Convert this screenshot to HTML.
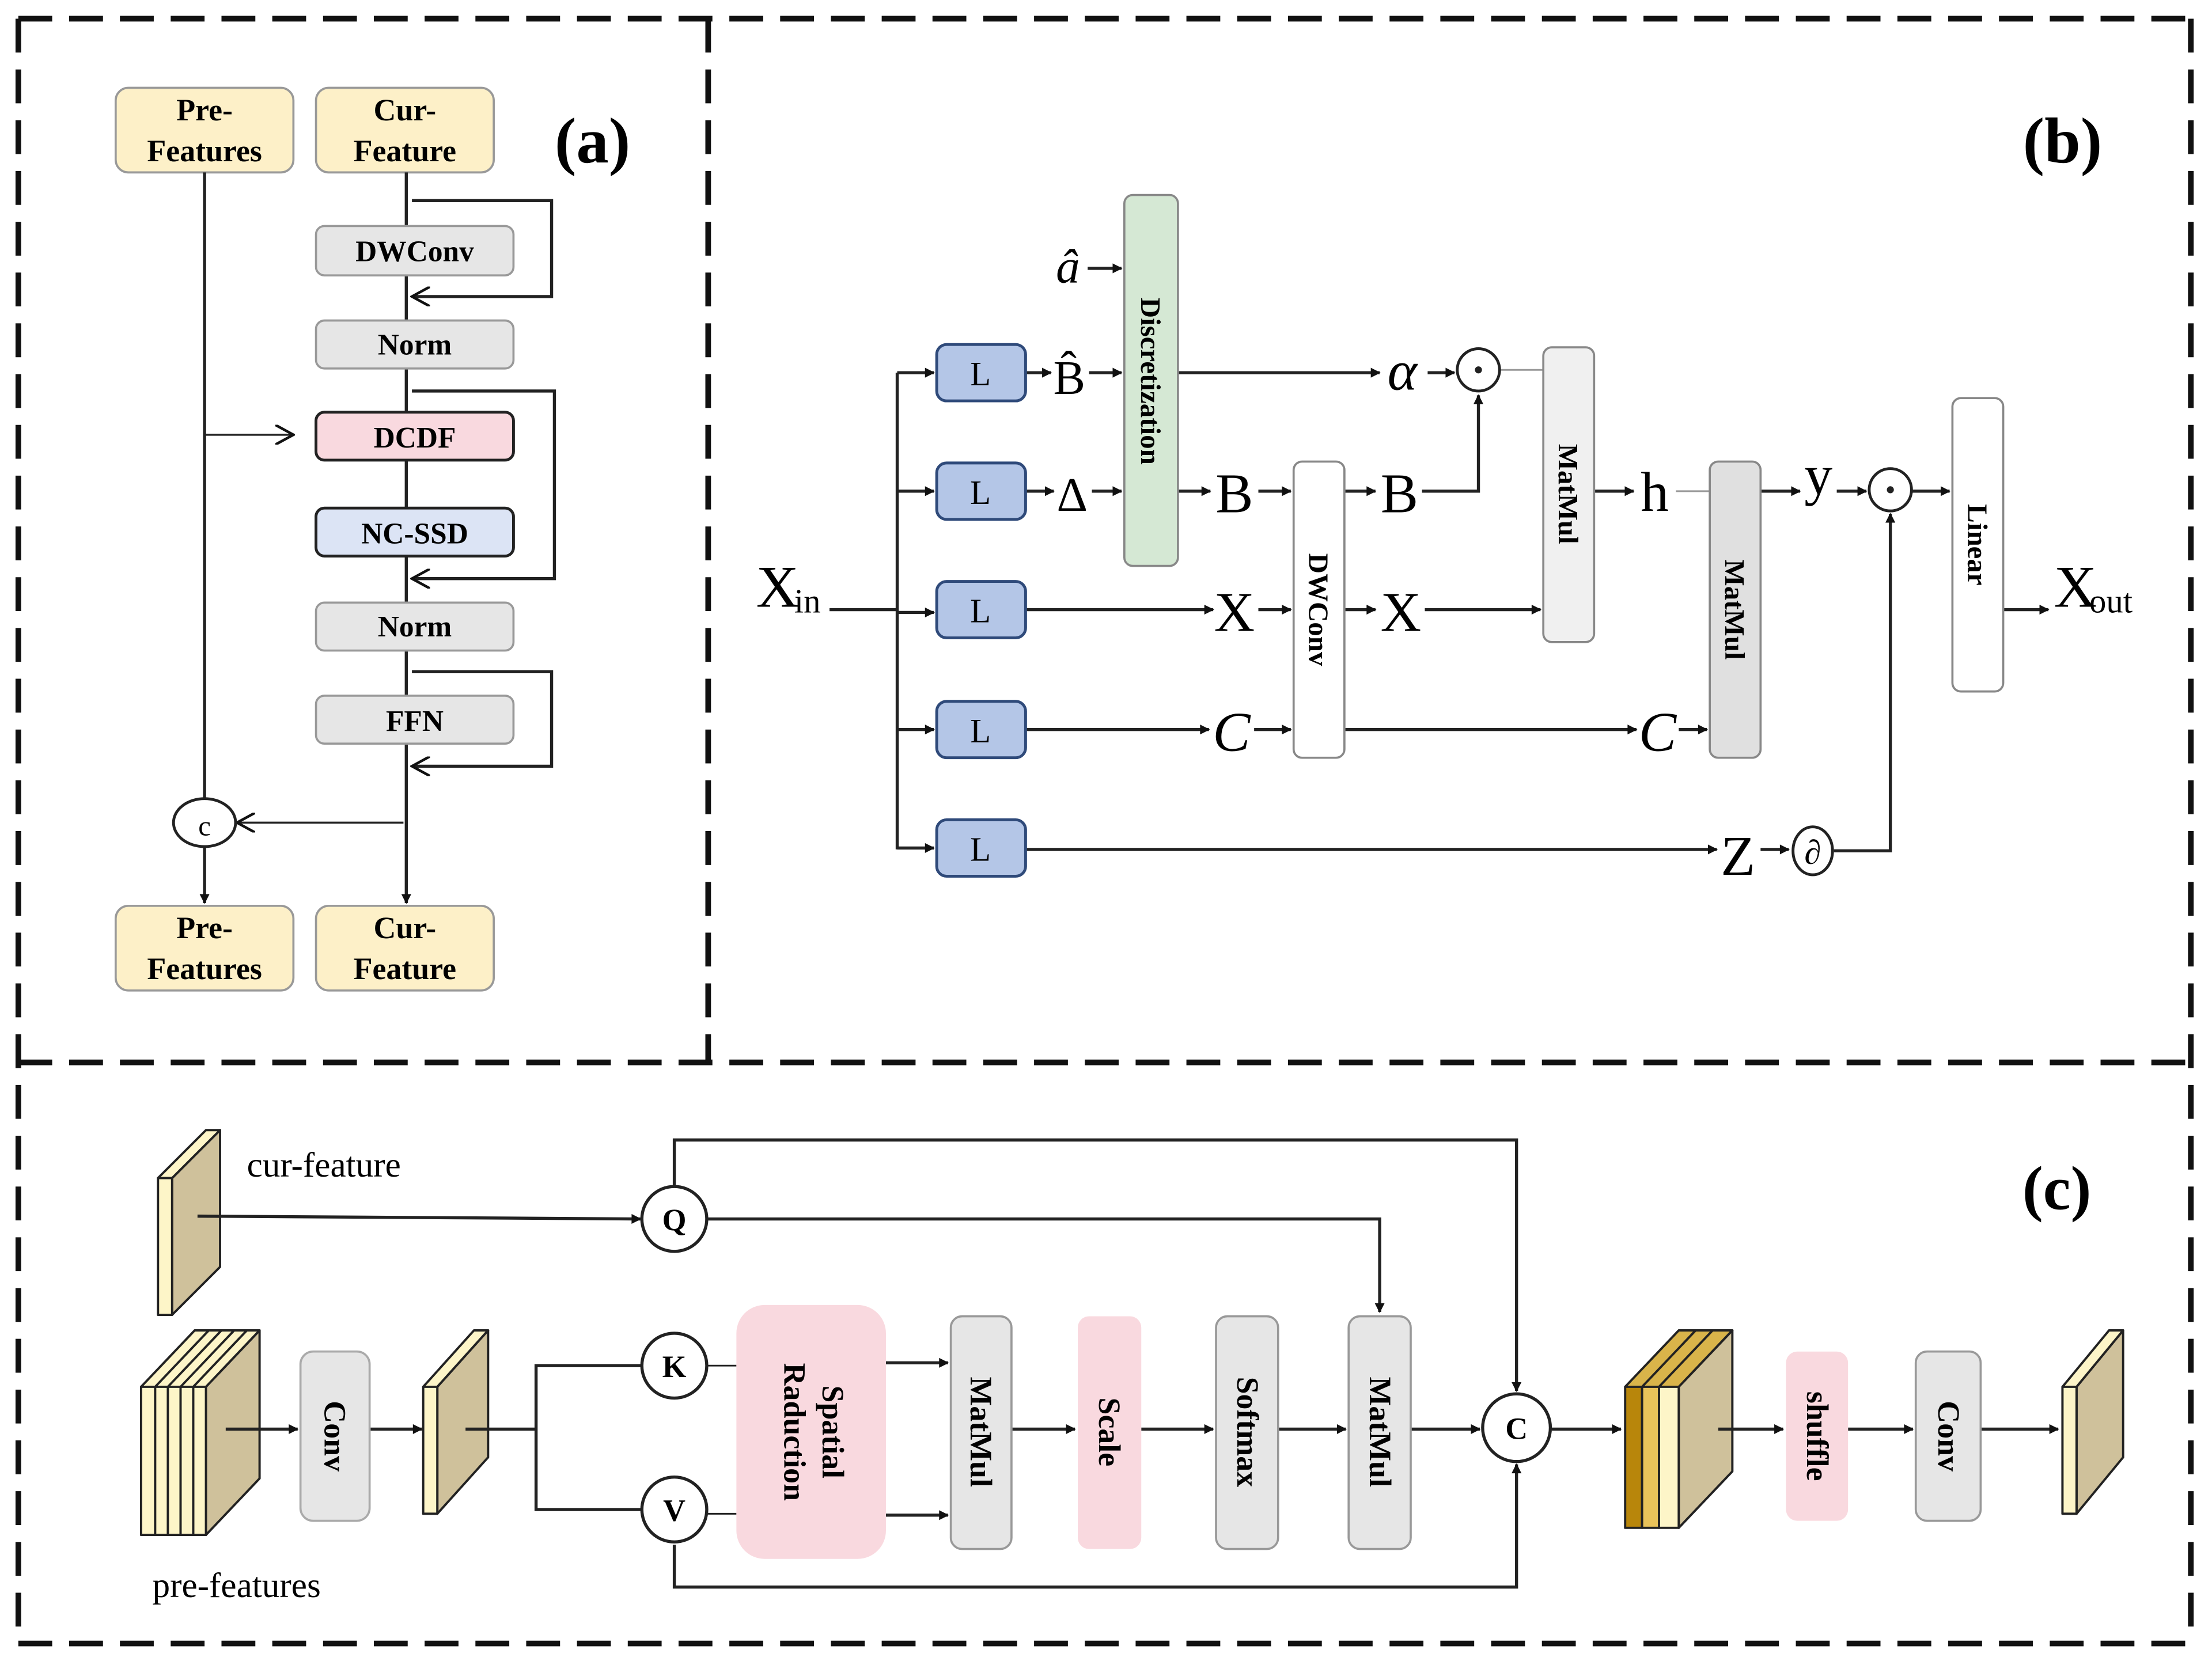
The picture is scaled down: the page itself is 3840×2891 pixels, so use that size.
<!DOCTYPE html>
<html><head><meta charset="utf-8"><style>
html,body{margin:0;padding:0;background:#fff;}
svg{display:block;}
text{font-family:"Liberation Serif",serif;}
</style></head><body>
<svg width="3840" height="2891" viewBox="0 0 1568 1180" xmlns="http://www.w3.org/2000/svg">
<defs>
<marker id="ar" viewBox="0 0 10 10" refX="9" refY="5" markerWidth="7" markerHeight="7" orient="auto-start-reverse" markerUnits="userSpaceOnUse" style="overflow:visible"><path d="M0,0 L10,5 L0,10 z" fill="#111"/></marker>
<marker id="ao" viewBox="0 0 12 12" refX="11" refY="6" markerWidth="14" markerHeight="14" orient="auto" markerUnits="userSpaceOnUse"><path d="M0,0 L11,6 L0,12" fill="none" stroke="#111" stroke-width="1.6"/></marker>
</defs>
<rect width="1568" height="1180" fill="#fff"/>
<!-- dashed panels -->
<g fill="none" stroke="#111" stroke-width="4" stroke-dasharray="24,12">
<line x1="13" y1="13" x2="1553" y2="13"/>
<line x1="13" y1="1165" x2="1553" y2="1165"/>
<line x1="13" y1="753" x2="1553" y2="753"/>
<line x1="13" y1="13" x2="13" y2="1165"/>
<line x1="1553" y1="13" x2="1553" y2="1165"/>
<line x1="502" y1="13" x2="502" y2="753"/>
</g>

<!-- PANEL A -->
<g font-weight="bold" font-size="22" text-anchor="middle">
<rect x="82" y="62" width="126" height="60" rx="9" fill="#fdf0c8" stroke="#999" stroke-width="1.5"/>
<text x="145" y="85">Pre-</text><text x="145" y="114">Features</text>
<rect x="224" y="62" width="126" height="60" rx="9" fill="#fdf0c8" stroke="#999" stroke-width="1.5"/>
<text x="287" y="85">Cur-</text><text x="287" y="114">Feature</text>
<rect x="82" y="642" width="126" height="60" rx="9" fill="#fdf0c8" stroke="#999" stroke-width="1.5"/>
<text x="145" y="665">Pre-</text><text x="145" y="694">Features</text>
<rect x="224" y="642" width="126" height="60" rx="9" fill="#fdf0c8" stroke="#999" stroke-width="1.5"/>
<text x="287" y="665">Cur-</text><text x="287" y="694">Feature</text>
</g>
<g stroke="#222" stroke-width="2.2" fill="none">
<line x1="288" y1="122" x2="288" y2="640" marker-end="url(#ar)"/>
<polyline points="292,142 391,142 391,210 292,210" marker-end="url(#ao)"/>
<polyline points="292,277 393,277 393,410 292,410" marker-end="url(#ao)"/>
<polyline points="292,476 391,476 391,543 292,543" marker-end="url(#ao)"/>
<line x1="145" y1="122" x2="145" y2="566"/>
<line x1="145" y1="600" x2="145" y2="640" marker-end="url(#ar)"/>
</g>
<g stroke="#222" stroke-width="1.4" fill="none">
<line x1="145" y1="308" x2="208" y2="308" marker-end="url(#ao)"/>
<line x1="286" y1="583" x2="168" y2="583" marker-end="url(#ao)"/>
</g>
<g font-weight="bold" font-size="21" text-anchor="middle">
<rect x="224" y="160" width="140" height="35" rx="6" fill="#e6e6e6" stroke="#999" stroke-width="1.5"/><text x="294" y="185">DWConv</text>
<rect x="224" y="227" width="140" height="34" rx="6" fill="#e6e6e6" stroke="#999" stroke-width="1.5"/><text x="294" y="251">Norm</text>
<rect x="224" y="292" width="140" height="34" rx="6" fill="#f9d9df" stroke="#222" stroke-width="2"/><text x="294" y="317">DCDF</text>
<rect x="224" y="360" width="140" height="34" rx="6" fill="#dce4f5" stroke="#222" stroke-width="2"/><text x="294" y="385">NC-SSD</text>
<rect x="224" y="427" width="140" height="34" rx="6" fill="#e6e6e6" stroke="#999" stroke-width="1.5"/><text x="294" y="451">Norm</text>
<rect x="224" y="493" width="140" height="34" rx="6" fill="#e6e6e6" stroke="#999" stroke-width="1.5"/><text x="294" y="518">FFN</text>
</g>
<ellipse cx="145" cy="583" rx="22" ry="17" fill="#fff" stroke="#222" stroke-width="2"/>
<text x="145" y="592" font-size="20" text-anchor="middle">c</text>
<text x="420" y="115" font-size="46" font-weight="bold" text-anchor="middle">(a)</text>

<!-- PANEL B -->
<text x="1462" y="115" font-size="46" font-weight="bold" text-anchor="middle">(b)</text>
<text x="536" y="430" font-size="42">X</text><text x="563" y="434" font-size="24">in</text>
<g stroke="#222" stroke-width="2.2" fill="none">
<line x1="588" y1="432" x2="636" y2="432"/>
<line x1="636" y1="264" x2="636" y2="602"/>
<line x1="636" y1="264" x2="662" y2="264" marker-end="url(#ar)"/>
<line x1="636" y1="348" x2="662" y2="348" marker-end="url(#ar)"/>
<line x1="636" y1="434" x2="662" y2="434" marker-end="url(#ar)"/>
<line x1="636" y1="517" x2="662" y2="517" marker-end="url(#ar)"/>
<line x1="636" y1="601" x2="662" y2="601" marker-end="url(#ar)"/>
<line x1="771" y1="190" x2="795" y2="190" marker-end="url(#ar)"/>
<line x1="727" y1="264" x2="745" y2="264" marker-end="url(#ar)"/>
<line x1="772" y1="264" x2="795" y2="264" marker-end="url(#ar)"/>
<line x1="727" y1="348" x2="747" y2="348" marker-end="url(#ar)"/>
<line x1="774" y1="348" x2="795" y2="348" marker-end="url(#ar)"/>
<line x1="835" y1="264" x2="978" y2="264" marker-end="url(#ar)"/>
<line x1="1012" y1="264" x2="1031" y2="264" marker-end="url(#ar)"/>
<line x1="835" y1="348" x2="858" y2="348" marker-end="url(#ar)"/>
<line x1="892" y1="348" x2="915" y2="348" marker-end="url(#ar)"/>
<line x1="953" y1="348" x2="975" y2="348" marker-end="url(#ar)"/>
<polyline points="1008,348 1048,348 1048,280" marker-end="url(#ar)"/>
<line x1="727" y1="432" x2="860" y2="432" marker-end="url(#ar)"/>
<line x1="892" y1="432" x2="915" y2="432" marker-end="url(#ar)"/>
<line x1="953" y1="432" x2="975" y2="432" marker-end="url(#ar)"/>
<line x1="1010" y1="432" x2="1092" y2="432" marker-end="url(#ar)"/>
<line x1="1130" y1="348" x2="1158" y2="348" marker-end="url(#ar)"/>
<line x1="727" y1="517" x2="857" y2="517" marker-end="url(#ar)"/>
<line x1="889" y1="517" x2="915" y2="517" marker-end="url(#ar)"/>
<line x1="953" y1="517" x2="1160" y2="517" marker-end="url(#ar)"/>
<line x1="1190" y1="517" x2="1210" y2="517" marker-end="url(#ar)"/>
<line x1="1248" y1="348" x2="1276" y2="348" marker-end="url(#ar)"/>
<line x1="1302" y1="348" x2="1323" y2="348" marker-end="url(#ar)"/>
<line x1="1355" y1="348" x2="1382" y2="348" marker-end="url(#ar)"/>
<line x1="1420" y1="432" x2="1452" y2="432" marker-end="url(#ar)"/>
<line x1="727" y1="602" x2="1217" y2="602" marker-end="url(#ar)"/>
<line x1="1248" y1="602" x2="1268" y2="602" marker-end="url(#ar)"/>
<polyline points="1300,603 1340,603 1340,364" marker-end="url(#ar)"/>
</g>
<g stroke="#999" stroke-width="1.2">
<line x1="1063" y1="262" x2="1094" y2="262"/>
<line x1="1188" y1="348" x2="1212" y2="348"/>
</g>
<g font-size="24" text-anchor="middle">
<rect x="664" y="244" width="63" height="40" rx="7" fill="#b4c6e7" stroke="#2f4a7a" stroke-width="2"/><text x="695" y="273">L</text>
<rect x="664" y="328" width="63" height="40" rx="7" fill="#b4c6e7" stroke="#2f4a7a" stroke-width="2"/><text x="695" y="357">L</text>
<rect x="664" y="412" width="63" height="40" rx="7" fill="#b4c6e7" stroke="#2f4a7a" stroke-width="2"/><text x="695" y="441">L</text>
<rect x="664" y="497" width="63" height="40" rx="7" fill="#b4c6e7" stroke="#2f4a7a" stroke-width="2"/><text x="695" y="526">L</text>
<rect x="664" y="581" width="63" height="40" rx="7" fill="#b4c6e7" stroke="#2f4a7a" stroke-width="2"/><text x="695" y="610">L</text>
</g>
<rect x="797" y="138" width="38" height="263" rx="6" fill="#d5e8d4" stroke="#888" stroke-width="1.5"/>
<rect x="917" y="327" width="36" height="210" rx="6" fill="#fff" stroke="#888" stroke-width="1.5"/>
<rect x="1094" y="246" width="36" height="209" rx="6" fill="#f0f0f0" stroke="#888" stroke-width="1.5"/>
<rect x="1212" y="327" width="36" height="210" rx="6" fill="#e0e0e0" stroke="#888" stroke-width="1.5"/>
<rect x="1384" y="282" width="36" height="208" rx="6" fill="#fff" stroke="#888" stroke-width="1.5"/>
<g font-weight="bold" font-size="20" text-anchor="middle">
<text transform="translate(809,270) rotate(90)">Discretization</text>
<text transform="translate(928,432) rotate(90)">DWConv</text>
<text transform="translate(1105,350) rotate(90)">MatMul</text>
<text transform="translate(1223,432) rotate(90)">MatMul</text>
<text transform="translate(1395,386) rotate(90)">Linear</text>
</g>
<g font-size="40" text-anchor="middle">
<text x="757" y="200" font-style="italic" font-size="34">â</text>
<text x="758" y="279" font-size="34">B̂</text>
<text x="760" y="362" font-size="34">Δ</text>
<text x="994" y="276" font-style="italic">α</text>
<text x="875" y="363">B</text>
<text x="992" y="363">B</text>
<text x="875" y="447">X</text>
<text x="993" y="447">X</text>
<text x="1173" y="362">h</text>
<text x="1289" y="350" >y</text>
<text x="873" y="532" font-style="italic">C</text>
<text x="1175" y="532" font-style="italic">C</text>
<text x="1232" y="620">Z</text>
</g>
<text x="1456" y="430" font-size="42">X</text><text x="1481" y="434" font-size="24">out</text>
<circle cx="1048" cy="262" r="15" fill="#fff" stroke="#222" stroke-width="2"/><circle cx="1048" cy="262" r="2.5" fill="#222"/>
<circle cx="1340" cy="347" r="15" fill="#fff" stroke="#222" stroke-width="2"/><circle cx="1340" cy="347" r="2.5" fill="#222"/>
<ellipse cx="1285" cy="603" rx="14" ry="17" fill="#fff" stroke="#222" stroke-width="2"/>
<text x="1285" y="612" font-size="24" text-anchor="middle" font-style="italic">∂</text>

<!-- PANEL C -->
<text x="1458" y="857" font-size="44" font-weight="bold" text-anchor="middle">(c)</text>
<g stroke="#222" stroke-width="1.6" stroke-linejoin="round">
<polygon points="122,835 156,801 156,898 122,932" fill="#cfc19b"/>
<polygon points="112,835 146,801 156,801 122,835" fill="#fdf5c8"/>
<rect x="112" y="835" width="10" height="97" fill="#fdf5c8"/>
<polygon points="146,983 184,943 184,1048 146,1088" fill="#cfc19b"/>
<polygon points="100,983 138,943 184,943 146,983" fill="#fdf5c8"/>
<rect x="100" y="983" width="10" height="105" fill="#fdf5c8"/>
<rect x="110" y="983" width="9" height="105" fill="#fdf5c8"/>
<rect x="119" y="983" width="9" height="105" fill="#fdf5c8"/>
<rect x="128" y="983" width="9" height="105" fill="#fdf5c8"/>
<rect x="137" y="983" width="9" height="105" fill="#fdf5c8"/>
<line x1="110" y1="983" x2="148" y2="943"/><line x1="119" y1="983" x2="157" y2="943"/><line x1="128" y1="983" x2="166" y2="943"/><line x1="137" y1="983" x2="175" y2="943"/>
<polygon points="310,983 346,943 346,1033 310,1073" fill="#cfc19b"/>
<polygon points="300,983 336,943 346,943 310,983" fill="#fdf5c8"/>
<rect x="300" y="983" width="10" height="90" fill="#fdf5c8"/>
<polygon points="1190,983 1228,943 1228,1043 1190,1083" fill="#cfc19b"/>
<polygon points="1152,983 1190,943 1228,943 1190,983" fill="#d9b44a"/>
<rect x="1152" y="983" width="12" height="100" fill="#b8860b"/>
<rect x="1164" y="983" width="12" height="100" fill="#e8c25a"/>
<rect x="1176" y="983" width="14" height="100" fill="#fdf5c8"/>
<line x1="1164" y1="983" x2="1202" y2="943"/><line x1="1176" y1="983" x2="1214" y2="943"/>
<polygon points="1472,983 1505,943 1505,1033 1472,1073" fill="#cfc19b"/>
<polygon points="1462,983 1495,943 1505,943 1472,983" fill="#fdf5c8"/>
<rect x="1462" y="983" width="10" height="90" fill="#fdf5c8"/>
</g>
<text x="175" y="834" font-size="25">cur-feature</text>
<text x="108" y="1132" font-size="25">pre-features</text>
<g stroke="#222" stroke-width="2.2" fill="none">
<line x1="140" y1="862" x2="454" y2="864" marker-end="url(#ar)"/>
<polyline points="478,840 478,808 1075,808 1075,986" marker-end="url(#ar)"/>
<polyline points="502,864 978,864 978,930" marker-end="url(#ar)"/>
<line x1="160" y1="1013" x2="211" y2="1013" marker-end="url(#ar)"/>
<line x1="262" y1="1013" x2="299" y2="1013" marker-end="url(#ar)"/>
<line x1="330" y1="1013" x2="380" y2="1013"/>
<polyline points="456,968 380,968 380,1070 456,1070"/>
<line x1="500" y1="968" x2="522" y2="968" stroke-width="1.2"/>
<line x1="500" y1="1073" x2="522" y2="1073" stroke-width="1.2"/>
<line x1="628" y1="966" x2="672" y2="966" marker-end="url(#ar)"/>
<line x1="628" y1="1074" x2="672" y2="1074" marker-end="url(#ar)"/>
<line x1="717" y1="1013" x2="762" y2="1013" marker-end="url(#ar)"/>
<line x1="809" y1="1013" x2="860" y2="1013" marker-end="url(#ar)"/>
<line x1="906" y1="1013" x2="954" y2="1013" marker-end="url(#ar)"/>
<line x1="1000" y1="1013" x2="1049" y2="1013" marker-end="url(#ar)"/>
<polyline points="478,1095 478,1125 1075,1125 1075,1038" marker-end="url(#ar)"/>
<line x1="1100" y1="1013" x2="1149" y2="1013" marker-end="url(#ar)"/>
<line x1="1218" y1="1013" x2="1264" y2="1013" marker-end="url(#ar)"/>
<line x1="1310" y1="1013" x2="1356" y2="1013" marker-end="url(#ar)"/>
<line x1="1404" y1="1013" x2="1459" y2="1013" marker-end="url(#ar)"/>
</g>
<rect x="213" y="958" width="49" height="120" rx="9" fill="#e6e6e6" stroke="#aaa" stroke-width="1.5"/>
<rect x="522" y="925" width="106" height="180" rx="20" fill="#f9d9df"/>
<rect x="674" y="933" width="43" height="165" rx="8" fill="#e6e6e6" stroke="#999" stroke-width="1.5"/>
<rect x="764" y="933" width="45" height="165" rx="8" fill="#f9d9df"/>
<rect x="862" y="933" width="44" height="165" rx="8" fill="#e6e6e6" stroke="#999" stroke-width="1.5"/>
<rect x="956" y="933" width="44" height="165" rx="8" fill="#e6e6e6" stroke="#999" stroke-width="1.5"/>
<rect x="1266" y="958" width="44" height="120" rx="8" fill="#f9d9df"/>
<rect x="1358" y="958" width="46" height="120" rx="8" fill="#e6e6e6" stroke="#999" stroke-width="1.5"/>
<g font-weight="bold" font-size="22" text-anchor="middle">
<text transform="translate(230,1018) rotate(90)">Conv</text>
<text transform="translate(583,1015) rotate(90)">Spatial</text>
<text transform="translate(556,1015) rotate(90)">Raduction</text>
<text transform="translate(688,1015) rotate(90)">MatMul</text>
<text transform="translate(779,1015) rotate(90)">Scale</text>
<text transform="translate(877,1015) rotate(90)">Softmax</text>
<text transform="translate(971,1015) rotate(90)">MatMul</text>
<text transform="translate(1281,1018) rotate(90)">shuffle</text>
<text transform="translate(1374,1018) rotate(90)">Conv</text>
</g>
<g stroke="#222" stroke-width="2.2" fill="#fff">
<ellipse cx="478" cy="864" rx="23" ry="23"/>
<ellipse cx="478" cy="968" rx="23" ry="23"/>
<ellipse cx="478" cy="1070" rx="23" ry="23"/>
<ellipse cx="1075" cy="1012" rx="24" ry="24"/>
</g>
<g font-weight="bold" font-size="22" text-anchor="middle">
<text x="478" y="872">Q</text><text x="478" y="976">K</text><text x="478" y="1078">V</text><text x="1075" y="1020">C</text>
</g>
</svg>
</body></html>
